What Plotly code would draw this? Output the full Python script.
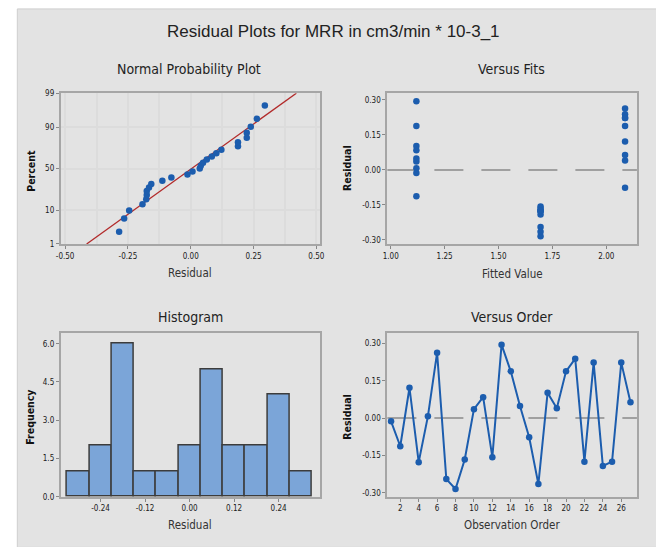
import plotly.graph_objects as go
from statistics import NormalDist, mean, stdev

# ---------------- data ----------------
observation = list(range(1, 28))
residuals = [-0.013, -0.113, 0.122, -0.177, 0.007, 0.263, -0.245, -0.285, -0.166,
             0.036, 0.084, -0.157, 0.295, 0.188, 0.049, -0.077, -0.265, 0.102,
             0.040, 0.188, 0.239, -0.175, 0.223, -0.192, -0.175, 0.223, 0.064]
fitted = [1.119, 1.119, 2.087, 1.695, 1.119, 2.087, 1.695, 1.695, 1.695,
          1.119, 1.119, 1.695, 1.119, 1.119, 1.119, 2.087, 1.695, 1.119,
          2.087, 2.087, 2.087, 1.695, 2.087, 1.695, 1.695, 2.087, 2.087]

npp_x_ticks = [-0.50, -0.25, 0.00, 0.25, 0.50]
npp_x_labels = ["-0.50", "-0.25", "0.00", "0.25", "0.50"]
npp_pct_ticks = [1, 10, 50, 90, 99]
fit_x_ticks = [1.00, 1.25, 1.50, 1.75, 2.00]
fit_x_labels = ["1.00", "1.25", "1.50", "1.75", "2.00"]
res_ticks = [-0.30, -0.15, 0.00, 0.15, 0.30]
res_labels = ["-0.30", "-0.15", "0.00", "0.15", "0.30"]
hist_x_ticks = [-0.24, -0.12, 0.00, 0.12, 0.24]
hist_x_labels = ["-0.24", "-0.12", "0.00", "0.12", "0.24"]
hist_y_ticks = [0.0, 1.5, 3.0, 4.5, 6.0]
hist_y_labels = ["0.0", "1.5", "3.0", "4.5", "6.0"]
order_ticks = list(range(2, 27, 2))

# ---------------- derived ----------------
nd = NormalDist()
n = len(residuals)
sorted_res = sorted(residuals)
z_pos = [nd.inv_cdf((i + 1 - 0.3) / (n + 0.4)) for i in range(n)]
z_lo, z_hi = nd.inv_cdf(0.01), nd.inv_cdf(0.99)
mu, sd = mean(residuals), stdev(residuals)
line_z = [z_lo, z_hi]
line_x = [mu + z * sd for z in line_z]

W, H = 656, 547
def px(x): return x / W
def py(y): return 1 - y / H

BLUE = "#1C5DAE"
FRAME = "#A6A6A6"
NARROW = "Liberation Sans Narrow, DejaVu Sans Condensed, sans-serif"
TICKFONT = dict(family=NARROW, size=8, color="#1a1a1a")
SUBFONT = dict(family=NARROW, size=14, color="#222222")
XTFONT = dict(family=NARROW, size=11.5, color="#333333")
YTFONT = dict(family=NARROW, size=10.5, color="#111111")

fig = go.Figure()

# Normal probability plot
fig.add_trace(go.Scatter(x=line_x, y=line_z, mode="lines", line=dict(color="#B22A2A", width=1.3),
                         xaxis="x", yaxis="y", showlegend=False, hoverinfo="skip"))
fig.add_trace(go.Scatter(x=sorted_res, y=z_pos, mode="markers",
                         marker=dict(color=BLUE, size=6.5, symbol="circle"),
                         xaxis="x", yaxis="y", showlegend=False))

# Versus fits
fig.add_trace(go.Scatter(x=fitted, y=residuals, mode="markers",
                         marker=dict(color=BLUE, size=6.5),
                         xaxis="x2", yaxis="y2", showlegend=False))

# Histogram
fig.add_trace(go.Histogram(x=residuals, xbins=dict(start=-0.33, end=0.33, size=0.06),
                           marker=dict(color="#7BA5D8", line=dict(color="#3C3C3C", width=1.5)),
                           xaxis="x3", yaxis="y3", showlegend=False))

# Versus order
fig.add_trace(go.Scatter(x=observation, y=residuals, mode="lines+markers",
                         line=dict(color=BLUE, width=2),
                         marker=dict(color=BLUE, size=6.5),
                         xaxis="x4", yaxis="y4", showlegend=False))

dom_left = [px(56.7), px(320)]
dom_right = [px(388.3), px(641.7)]
dom_top = [py(244), py(90.7)]
dom_bot = [py(501), py(335)]

common = dict(showline=True, linecolor=FRAME, linewidth=2, mirror=True,
              ticks="outside", ticklen=3, tickcolor="#888888", tickwidth=1,
              tickfont=TICKFONT, zeroline=False, showgrid=False)
common_ng = {k: v for k, v in common.items() if k != "showgrid"}

fig.update_layout(
    width=W, height=H,
    margin=dict(l=0, r=0, t=0, b=0),
    paper_bgcolor="white", plot_bgcolor="white",
    bargap=0,
    xaxis=dict(domain=dom_left, anchor="y", range=[-0.517, 0.515],
               tickvals=npp_x_ticks, ticktext=npp_x_labels,
               showgrid=True, gridcolor="#DCDCDC", gridwidth=1.5,
               minor=dict(dtick=0.125, tick0=0, showgrid=True, gridcolor="#DCDCDC", gridwidth=1.5, ticks=""),
               **common_ng),
    yaxis=dict(domain=dom_top, anchor="x", range=[z_lo, z_hi],
               tickvals=[nd.inv_cdf(p / 100) for p in npp_pct_ticks],
               ticktext=[str(p) for p in npp_pct_ticks],
               showgrid=True, gridcolor="#DCDCDC", gridwidth=1.5,
               **common_ng),
    xaxis2=dict(domain=dom_right, anchor="y2", range=[0.9845, 2.142],
                tickvals=fit_x_ticks, ticktext=fit_x_labels, **common),
    yaxis2=dict(domain=dom_top, anchor="x2", range=[-0.318, 0.329],
                tickvals=res_ticks, ticktext=res_labels, **common),
    xaxis3=dict(domain=dom_left, anchor="y3", range=[-0.347, 0.352],
                tickvals=hist_x_ticks, ticktext=hist_x_labels, **common),
    yaxis3=dict(domain=dom_bot, anchor="x3", range=[0, 6.4],
                tickvals=hist_y_ticks, ticktext=hist_y_labels, **common),
    xaxis4=dict(domain=dom_right, anchor="y4", range=[0.6, 27.7],
                tickvals=order_ticks, **common),
    yaxis4=dict(domain=dom_bot, anchor="x4", range=[-0.316, 0.34],
                tickvals=res_ticks, ticktext=res_labels, **common),
)

shapes = [
    dict(type="rect", xref="paper", yref="paper", x0=px(12.5), x1=1.01, y0=-0.01, y1=py(5),
         fillcolor="#E3E3E3", line=dict(color="#CFCFCF", width=1), layer="below"),
    dict(type="line", xref="x2 domain", yref="y2", x0=0, x1=1, y0=0, y1=0,
         line=dict(color="#A0A0A0", width=2, dash="29px,18px"), layer="below"),
    dict(type="line", xref="x4 domain", yref="y4", x0=0, x1=1, y0=0, y1=0,
         line=dict(color="#A0A0A0", width=2, dash="29px,18px"), layer="below"),
]
fig.update_layout(shapes=shapes)

def ann(text, x, y, font, angle=0):
    return dict(text=text, x=px(x), y=py(y), xref="paper", yref="paper",
                xanchor="center", yanchor="middle", showarrow=False, font=font, textangle=angle)

annotations = [
    ann("Residual Plots for MRR in cm3/min * 10-3_1", 334, 28,
        dict(family="Liberation Sans, Arial, sans-serif", size=17, color="#222222")),
    ann("Normal Probability Plot", 187, 66, SUBFONT),
    ann("Versus Fits", 514, 66, SUBFONT),
    ann("Histogram", 188, 318, SUBFONT),
    ann("Versus Order", 515, 318, SUBFONT),
    ann("Residual", 188, 273, XTFONT),
    ann("Fitted Value", 515, 275, XTFONT),
    ann("Residual", 188, 530, XTFONT),
    ann("Observation Order", 515, 530, XTFONT),
    ann("<b>Percent</b>", 27, 170, YTFONT, -90),
    ann("<b>Residual</b>", 348, 167, YTFONT, -90),
    ann("<b>Frequency</b>", 25, 420, YTFONT, -90),
    ann("<b>Residual</b>", 347, 420, YTFONT, -90),
]
fig.update_layout(annotations=annotations)

fig.write_html("out.html", config={"displayModeBar": False},
               post_script="document.body.style.margin='0';document.body.style.overflow='hidden';")
